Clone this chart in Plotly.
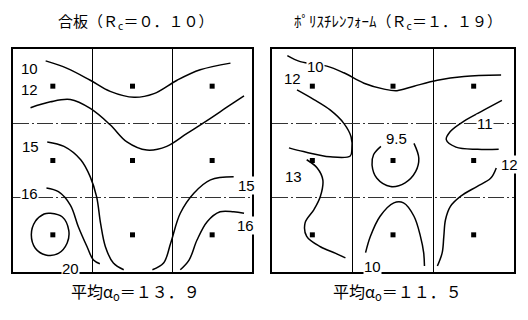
import plotly.graph_objects as go
from plotly.subplots import make_subplots

# cell centres (measuring points) in grid units, y measured downward
cell_x = [0.5, 1.5, 2.5]
cell_y = [0.5, 1.5, 2.5]

# --- 合板 contour lines (hand-drawn) ---
ply_10_x = [0.41, 0.68, 0.97, 1.22, 1.52, 1.77, 2.06, 2.35, 2.73]
ply_10_y = [0.16, 0.26, 0.42, 0.57, 0.65, 0.60, 0.42, 0.28, 0.19]
ply_12_x = [0.22, 0.47, 0.72, 0.97, 1.22, 1.43, 1.68, 1.93, 2.18, 2.44, 2.69, 2.90]
ply_12_y = [0.79, 0.71, 0.68, 0.80, 1.02, 1.25, 1.36, 1.31, 1.14, 0.96, 0.78, 0.63]
ply_15a_x = [0.43, 0.64, 0.85, 0.97, 1.05, 1.10, 1.16, 1.26, 1.39]
ply_15a_y = [1.25, 1.31, 1.49, 1.72, 1.99, 2.35, 2.66, 2.88, 2.97]
ply_15b_x = [1.75, 1.89, 1.98, 2.10, 2.27, 2.48, 2.77]
ply_15b_y = [2.97, 2.88, 2.61, 2.21, 1.94, 1.76, 1.72]
ply_16a_x = [0.42, 0.57, 0.72, 0.82, 0.93, 1.01, 1.09]
ply_16a_y = [1.87, 1.92, 2.10, 2.39, 2.66, 2.84, 2.89]
ply_16b_x = [2.10, 2.21, 2.31, 2.44, 2.60, 2.77, 2.90]
ply_16b_y = [2.97, 2.84, 2.57, 2.32, 2.19, 2.19, 2.21]
ply_20_x = [0.47, 0.62, 0.70, 0.68, 0.57, 0.41, 0.28, 0.23, 0.28, 0.39, 0.47]
ply_20_y = [2.21, 2.26, 2.44, 2.61, 2.75, 2.77, 2.68, 2.50, 2.32, 2.22, 2.21]

ply_labels = ["10", "12", "15", "15", "16", "16", "20"]
ply_label_x = [0.21, 0.21, 0.22, 2.93, 0.21, 2.92, 0.72]
ply_label_y = [0.26, 0.55, 1.31, 1.83, 1.95, 2.37, 2.95]

# --- ポリスチレンフォーム contour lines ---
ps_10a_x = [0.19, 0.35, 0.68, 0.89, 1.14, 1.39, 1.55, 1.76, 2.05, 2.38, 2.84]
ps_10a_y = [0.09, 0.17, 0.23, 0.32, 0.46, 0.54, 0.56, 0.50, 0.42, 0.37, 0.35]
ps_12a_x = [0.31, 0.52, 0.72, 0.89, 0.98, 0.99, 0.97, 0.72, 0.39, 0.21]
ps_12a_y = [0.55, 0.68, 0.82, 1.00, 1.18, 1.35, 1.44, 1.45, 1.38, 1.33]
ps_13_x = [0.43, 0.56, 0.63, 0.60, 0.52, 0.41, 0.43, 0.60, 0.79, 0.91]
ps_13_y = [1.49, 1.60, 1.76, 1.98, 2.16, 2.34, 2.52, 2.66, 2.75, 2.81]
ps_95_x = [1.35, 1.26, 1.24, 1.30, 1.47, 1.65, 1.78, 1.82, 1.76]
ps_95_y = [1.31, 1.42, 1.56, 1.74, 1.85, 1.80, 1.65, 1.47, 1.27]
ps_11_x = [2.85, 2.63, 2.38, 2.21, 2.16, 2.28, 2.55, 2.81]
ps_11_y = [0.69, 0.82, 0.97, 1.11, 1.22, 1.32, 1.35, 1.35]
ps_12b_x = [2.78, 2.71, 2.54, 2.34, 2.21, 2.15, 2.13, 2.11, 2.05]
ps_12b_y = [1.60, 1.74, 1.85, 1.98, 2.12, 2.30, 2.52, 2.74, 2.92]
ps_10b_x = [1.16, 1.22, 1.34, 1.51, 1.63, 1.76, 1.84, 1.88, 1.89]
ps_10b_y = [2.74, 2.52, 2.25, 2.07, 2.07, 2.25, 2.52, 2.74, 2.92]

ps_labels = ["10", "12", "9.5", "11", "13", "12", "10"]
ps_label_x = [0.54, 0.26, 1.54, 2.64, 0.27, 2.95, 1.24]
ps_label_y = [0.24, 0.40, 1.20, 1.00, 1.71, 1.56, 2.92]

titles = ["合板（Ｒ<sub>c</sub>＝０．１０）", "ﾎﾟﾘｽﾁﾚﾝﾌｫｰﾑ（Ｒ<sub>c</sub>＝１．１９）"]
averages = ["平均α<sub>o</sub>＝１３．９", "平均α<sub>o</sub>＝１１．５"]

ply_lines = [
    (ply_10_x, ply_10_y), (ply_12_x, ply_12_y), (ply_15a_x, ply_15a_y),
    (ply_15b_x, ply_15b_y), (ply_16a_x, ply_16a_y), (ply_16b_x, ply_16b_y),
    (ply_20_x, ply_20_y),
]
ps_lines = [
    (ps_10a_x, ps_10a_y), (ps_12a_x, ps_12a_y), (ps_13_x, ps_13_y),
    (ps_95_x, ps_95_y), (ps_11_x, ps_11_y), (ps_12b_x, ps_12b_y),
    (ps_10b_x, ps_10b_y),
]

fig = make_subplots(rows=1, cols=2, horizontal_spacing=0.04)

label_font = dict(family="Liberation Sans, Arial", size=15, color="black")

for col, lines, lx, ly, lt in [
    (1, ply_lines, ply_label_x, ply_label_y, ply_labels),
    (2, ps_lines, ps_label_x, ps_label_y, ps_labels),
]:
    for xs, ys in lines:
        fig.add_trace(
            go.Scatter(
                x=xs, y=ys, mode="lines",
                line=dict(color="black", width=1.5, shape="spline", smoothing=1.0),
                showlegend=False, hoverinfo="skip",
            ),
            row=1, col=col,
        )
    # measuring points
    fig.add_trace(
        go.Scatter(
            x=[x for _ in cell_y for x in cell_x],
            y=[y for y in cell_y for _ in cell_x],
            mode="markers",
            marker=dict(symbol="square", size=5, color="black"),
            showlegend=False, hoverinfo="skip",
        ),
        row=1, col=col,
    )
    xref = "x" if col == 1 else "x2"
    yref = "y" if col == 1 else "y2"
    for x, y, t in zip(lx, ly, lt):
        fig.add_annotation(
            x=x, y=y, xref=xref, yref=yref, text=t, showarrow=False,
            font=label_font, bgcolor="white", borderpad=0,
        )

fig.update_xaxes(
    range=[0, 3], tickvals=[1, 2], showticklabels=False, ticks="",
    showgrid=True, gridcolor="black", gridwidth=1,
    showline=True, linecolor="black", linewidth=1.5, mirror=True, zeroline=False,
)
fig.update_yaxes(
    range=[3, 0], tickvals=[1, 2], showticklabels=False, ticks="",
    showgrid=True, gridcolor="#333333", gridwidth=1, griddash="16px,3px,2px,3px",
    showline=True, linecolor="black", linewidth=1.5, mirror=True, zeroline=False,
)

# the page body adds an 8px margin, so the figure is 8px smaller than the window
fig.update_layout(
    width=520, height=312,
    margin=dict(l=5, r=14, t=41, b=48),
    paper_bgcolor="white", plot_bgcolor="white",
    font=dict(family="Noto Sans CJK JP", color="black"),
)
fig.update_xaxes(domain=[0, 0.477], row=1, col=1)
fig.update_xaxes(domain=[0.517, 1], row=1, col=2)

for cx, t, a in [(0.245, titles[0], averages[0]), (0.768, titles[1], averages[1])]:
    fig.add_annotation(
        x=cx, y=1.0, xref="paper", yref="paper", xanchor="center",
        yanchor="middle", yshift=28, text=t,
        showarrow=False, font=dict(size=15, family="Noto Sans CJK JP"),
    )
    fig.add_annotation(
        x=cx, y=0, xref="paper", yref="paper", xanchor="center",
        yanchor="middle", yshift=-19, text=a,
        showarrow=False, font=dict(size=16, family="Noto Sans CJK JP"),
    )

fig.write_html("out.html")
